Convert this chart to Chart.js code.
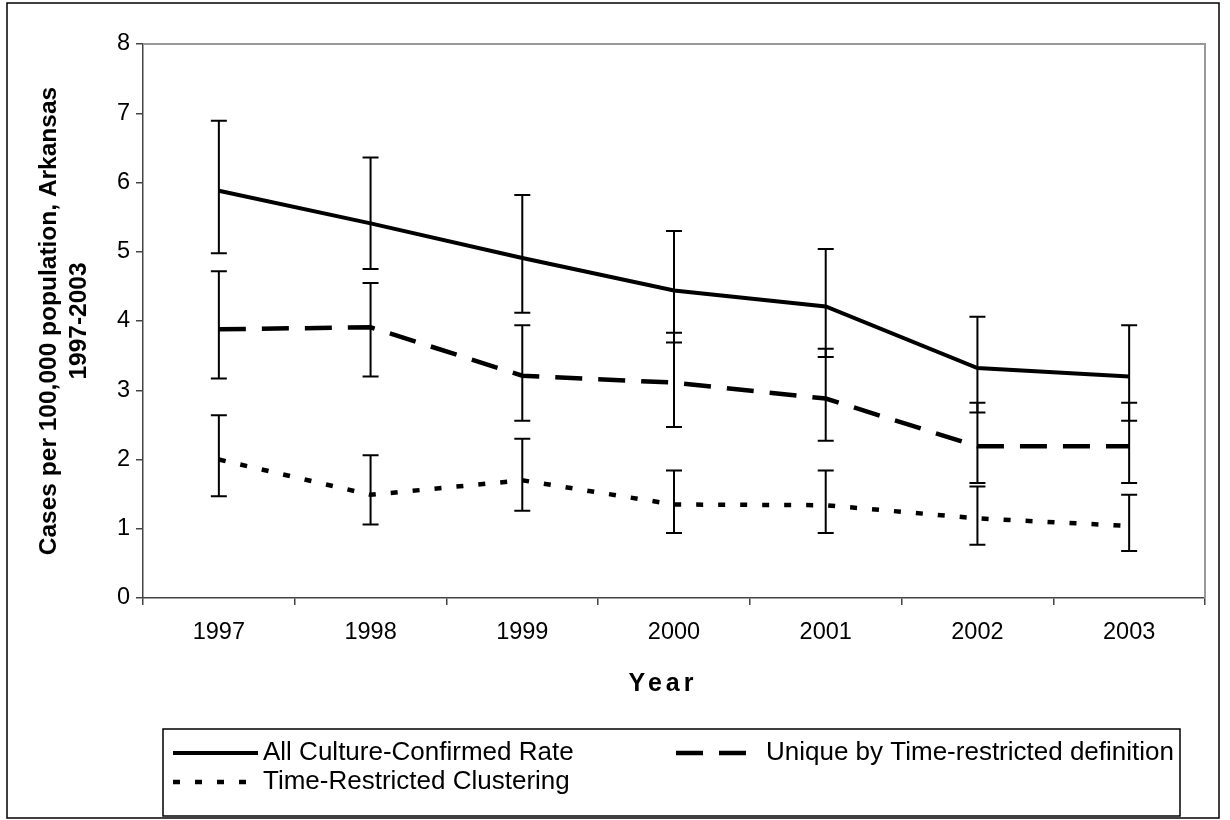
<!DOCTYPE html>
<html>
<head>
<meta charset="utf-8">
<script src="https://cdn.jsdelivr.net/npm/chart.js@4/dist/chart.umd.min.js"></script>
<style>
html,body{margin:0;padding:0;background:#fff;}
#wrap{width:1230px;height:820px;position:relative;}
canvas{display:block;}
</style>
</head>
<body>
<div id="wrap"><canvas id="c" width="1230" height="820"></canvas></div>
<script>
const years = ['1997','1998','1999','2000','2001','2002','2003'];

const allRate  = [5.88, 5.41, 4.91, 4.44, 4.21, 3.32, 3.20];
const allLow   = [4.98, 4.75, 4.12, 3.69, 3.48, 2.68, 2.56];
const allHigh  = [6.89, 6.36, 5.82, 5.30, 5.04, 4.06, 3.94];

const uniqueRate = [3.88, 3.91, 3.21, 3.11, 2.88, 2.19, 2.19];
const uniqueLow  = [3.17, 3.20, 2.56, 2.47, 2.27, 1.66, 1.66];
const uniqueHigh = [4.72, 4.55, 3.94, 3.83, 3.60, 2.82, 2.82];

const clusterRate = [2.00, 1.49, 1.70, 1.35, 1.34, 1.15, 1.04];
const clusterLow  = [1.47, 1.06, 1.26, 0.94, 0.94, 0.77, 0.68];
const clusterHigh = [2.64, 2.06, 2.30, 1.84, 1.84, 1.61, 1.49];

const yMin = 0, yMax = 8, yStep = 1;

const seriesLabels = ['All Culture-Confirmed Rate', 'Unique by Time-restricted definition', 'Time-Restricted Clustering'];
const xTitle = 'Year';
const yTitle = ['Cases per 100,000 population, Arkansas', '1997-2003'];
const errorLow  = [allLow, uniqueLow, clusterLow];
const errorHigh = [allHigh, uniqueHigh, clusterHigh];

const FONT = "'Liberation Sans', Arial, Helvetica, sans-serif";

const framePlugin = {
  id: 'frame',
  beforeDraw(chart) {
    const ctx = chart.ctx;
    ctx.save();
    ctx.fillStyle = '#fff';
    ctx.fillRect(0, 0, chart.width, chart.height);
    ctx.strokeStyle = '#000';
    ctx.lineWidth = 1.5;
    ctx.strokeRect(7, 3, 1212, 815);
    ctx.restore();
  },
  beforeDatasetsDraw(chart) {
    const {ctx, chartArea: a} = chart;
    ctx.save();
    ctx.strokeStyle = '#999';
    ctx.lineWidth = 2;
    ctx.beginPath();
    ctx.moveTo(a.left, a.top);
    ctx.lineTo(a.right, a.top);
    ctx.lineTo(a.right, a.bottom);
    ctx.stroke();
    ctx.restore();
  },
  afterDraw(chart) {
    const ctx = chart.ctx;
    const xs = chart.scales.x;
    ctx.save();
    ctx.fillStyle = '#000';
    ctx.font = 'bold 25px ' + FONT;
    ctx.letterSpacing = '4px';
    ctx.textAlign = 'center';
    ctx.textBaseline = 'middle';
    ctx.fillText(xTitle, (xs.left + xs.right) / 2 - 11, 684);
    ctx.restore();
  }
};

const errorBarPlugin = {
  id: 'errorBars',
  afterDatasetsDraw(chart) {
    const ctx = chart.ctx;
    const xs = chart.scales.x, ys = chart.scales.y;
    ctx.save();
    ctx.strokeStyle = '#000';
    ctx.lineWidth = 2;
    ctx.setLineDash([]);
    chart.data.datasets.forEach((ds, di) => {
      const lo = errorLow[di], hi = errorHigh[di];
      ds.data.forEach((v, i) => {
        const x = xs.getPixelForValue(i);
        const yl = ys.getPixelForValue(lo[i]);
        const yh = ys.getPixelForValue(hi[i]);
        ctx.beginPath();
        ctx.moveTo(x, yl); ctx.lineTo(x, yh);
        ctx.moveTo(x - 8, yl); ctx.lineTo(x + 8, yl);
        ctx.moveTo(x - 8, yh); ctx.lineTo(x + 8, yh);
        ctx.stroke();
      });
    });
    ctx.restore();
  }
};

const legendPlugin = {
  id: 'boxLegend',
  afterDraw(chart) {
    const ctx = chart.ctx;
    ctx.save();
    ctx.strokeStyle = '#000';
    ctx.lineWidth = 1.5;
    ctx.strokeRect(163, 729, 1017, 87);
    const items = [
      {x: 173, y: 753},
      {x: 676, y: 753},
      {x: 173, y: 782}
    ];
    const sampleLen = 85;
    const textOffset = 90;
    chart.data.datasets.forEach((ds, i) => {
      const it = items[i];
      ctx.beginPath();
      ctx.strokeStyle = ds.borderColor;
      ctx.lineWidth = ds.borderWidth;
      ctx.lineCap = 'butt';
      ctx.setLineDash(ds.borderDash || []);
      ctx.moveTo(it.x, it.y);
      ctx.lineTo(it.x + sampleLen, it.y);
      ctx.stroke();
      ctx.setLineDash([]);
      ctx.fillStyle = '#000';
      ctx.font = '26px ' + FONT;
      ctx.textAlign = 'left';
      ctx.textBaseline = 'middle';
      ctx.fillText(ds.label, it.x + textOffset, it.y);
    });
    ctx.restore();
  }
};

new Chart(document.getElementById('c'), {
  type: 'line',
  data: {
    labels: years,
    datasets: [
      {label: seriesLabels[0], data: allRate, borderColor: '#000', borderWidth: 4, pointRadius: 0, tension: 0, fill: false},
      {label: seriesLabels[1], data: uniqueRate, borderColor: '#000', borderWidth: 4.5, borderDash: [27, 16], pointRadius: 0, tension: 0, fill: false},
      {label: seriesLabels[2], data: clusterRate, borderColor: '#000', borderWidth: 4.5, borderDash: [7, 15], pointRadius: 0, tension: 0, fill: false}
    ]
  },
  options: {
    responsive: false,
    animation: false,
    devicePixelRatio: 1,
    layout: {padding: {top: 44, right: 25, bottom: 0, left: 0}},
    plugins: {legend: {display: false}, tooltip: {enabled: false}, title: {display: false}},
    scales: {
      x: {
        type: 'category',
        offset: true,
        grid: {offset: true, drawOnChartArea: false, drawTicks: true, tickLength: 7, color: '#444', lineWidth: 1.5},
        border: {display: true, color: '#444', width: 1.5},
        ticks: {color: '#000', font: {family: FONT, size: 23.5}, padding: 13, maxRotation: 0},
        title: {display: false},
        afterFit(s) { s.height = 222; }
      },
      y: {
        min: yMin, max: yMax,
        grid: {drawOnChartArea: false, drawTicks: true, tickLength: 7, color: '#444', lineWidth: 1.5},
        border: {display: true, color: '#444', width: 1.5},
        ticks: {stepSize: yStep, color: '#000', font: {family: FONT, size: 23.5}, padding: 6},
        title: {display: true, text: yTitle, color: '#000', font: {family: FONT, size: 24.5, weight: 'bold'}, padding: {top: 35, bottom: 0}},
        afterFit(s) { s.width = 143; }
      }
    }
  },
  plugins: [framePlugin, errorBarPlugin, legendPlugin]
});
</script>
</body>
</html>
